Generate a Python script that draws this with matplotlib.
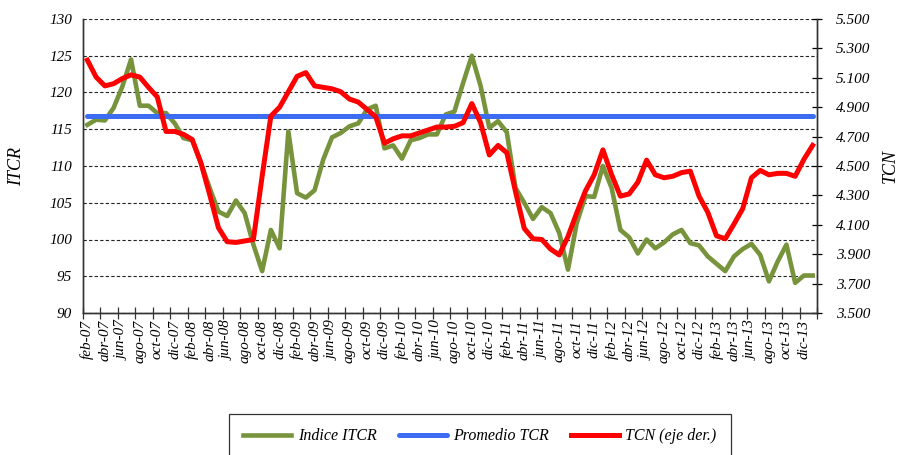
import numpy as np
import matplotlib
matplotlib.use("Agg")
import matplotlib.pyplot as plt
from matplotlib.ticker import FixedLocator, FuncFormatter, NullFormatter

# data
# ----------
meses = ["ene", "feb", "mar", "abr", "may", "jun",
         "jul", "ago", "sep", "oct", "nov", "dic"]
fechas = []
for anio in range(2007, 2015):
    for m in range(12):
        fechas.append(f"{meses[m]}-{str(anio)[2:]}")
fechas = fechas[1:85]  # feb-07 .. ene-14

itcr = [115.6, 116.3, 116.2, 117.9, 120.8, 124.5, 118.2, 118.2, 117.2, 117.2,
        115.8, 113.8, 113.5, 110.4, 107.0, 103.8, 103.2, 105.3, 103.6, 99.3,
        95.7, 101.3, 98.8, 114.7, 106.3, 105.7, 106.7, 110.9, 113.9, 114.5,
        115.4, 115.8, 117.7, 118.2, 112.4, 112.8, 111.0, 113.5, 113.8, 114.3,
        114.3, 117.0, 117.4, 121.3, 125.0, 120.9, 115.2, 116.1, 114.6, 107.0,
        105.0, 102.8, 104.4, 103.6, 100.9, 95.9, 102.2, 105.9, 105.8, 110.0,
        107.0, 101.3, 100.3, 98.1, 100.0, 98.8, 99.6, 100.7, 101.3, 99.5,
        99.2, 97.7, 96.7, 95.7, 97.7, 98.7, 99.4, 97.9, 94.3, 97.0,
        99.3, 94.1, 95.1, 95.1]

tcn = [5220, 5105, 5045, 5060, 5095, 5120, 5105, 5035, 4970, 4735,
       4735, 4715, 4680, 4520, 4305, 4080, 3985, 3980, 3990, 4000,
       4430, 4840, 4900, 5005, 5110, 5135, 5045, 5035, 5025, 5005,
       4955, 4935, 4885, 4835, 4655, 4685, 4705, 4705, 4725, 4745,
       4765, 4765, 4770, 4795, 4925, 4795, 4575, 4640, 4590, 4325,
       4075, 4005, 4000, 3935, 3895, 4020, 4180, 4330, 4440, 4610,
       4440, 4295, 4310, 4390, 4540, 4440, 4420, 4430, 4455, 4465,
       4295, 4185, 4025, 4005, 4105, 4210, 4420, 4470, 4440, 4450,
       4450, 4430, 4545, 4640]

promedio_tcr = 116.8

# plot settings
# ----------
plt.rcParams["font.family"] = "Liberation Serif"
plt.rcParams["font.style"] = "italic"

color_green = "#77933C"
color_blue = "#3B6CF2"
color_red = "#FF0000"

fig = plt.figure(figsize=(9.04, 4.55), dpi=100)
ax = fig.add_axes([83/904, 1 - 313/455, (817 - 83)/904, (313 - 19)/455])
ax2 = ax.twinx()

x = np.arange(len(fechas))

l1, = ax.plot(x, itcr, color=color_green, lw=3.3, solid_joinstyle="round",
              label="Indice ITCR", zorder=3)
l2, = ax.plot(x, [promedio_tcr] * len(x), color=color_blue, lw=3.6,
              solid_capstyle="round", label="Promedio TCR", zorder=3)
l3, = ax2.plot(x, tcn, color=color_red, lw=3.6, solid_joinstyle="round",
               label="TCN (eje der.)", zorder=3)

# left axis
ax.set_xlim(-0.5, len(x) - 0.5)
ax.set_ylim(90, 130)
ax.set_yticks(np.arange(90, 131, 5))
ax.yaxis.grid(True, color="#222222", ls=(0, (3, 2)), lw=0.8)
ax.set_axisbelow(True)
ax.set_ylabel("ITCR", fontsize=13, va="center")
ax.yaxis.set_label_coords(-0.09, 0.5)

# right axis
ax2.set_ylim(3500, 5500)
ax2.set_yticks(np.arange(3500, 5501, 200))
ax2.yaxis.set_major_formatter(FuncFormatter(lambda v, p: f"{v:,.0f}".replace(",", ".")))
ax2.set_ylabel("TCN", fontsize=13, rotation=90, va="center")
ax2.yaxis.set_label_coords(1.0995, 0.5)

# x axis: tick marks between categories, labels every 2 months
ax.xaxis.set_major_locator(FixedLocator(np.arange(-0.5, len(x), 2)))
ax.xaxis.set_major_formatter(NullFormatter())
ax.xaxis.set_minor_locator(FixedLocator(x[::2]))
ax.set_xticklabels(fechas[::2], minor=True, rotation=90)
ax.tick_params(axis="x", which="minor", length=0, pad=5, labelsize=11)
ax.tick_params(axis="x", which="major", direction="inout", length=8, width=0.9, color="#333333")
ax.tick_params(axis="y", direction="inout", length=0, labelsize=11, pad=8)
ax2.tick_params(axis="y", direction="inout", length=7, width=0.9, labelsize=11, pad=10)

for a in (ax, ax2):
    a.spines["top"].set_visible(False)
    for s in ("left", "right", "bottom"):
        a.spines[s].set_color("#333333")
        a.spines[s].set_linewidth(1.0)

leg = fig.legend(handles=[l1, l2, l3], loc="upper center",
                 bbox_to_anchor=(480/904, 1 - 414/455), ncol=3,
                 fontsize=11.5, frameon=True, fancybox=False, edgecolor="black",
                 handlelength=3.0, handletextpad=0.4, columnspacing=1.4,
                 borderpad=0.9, borderaxespad=0)
leg.get_frame().set_linewidth(0.9)

# display
# ----------
fig.savefig("out.png", dpi=100)
